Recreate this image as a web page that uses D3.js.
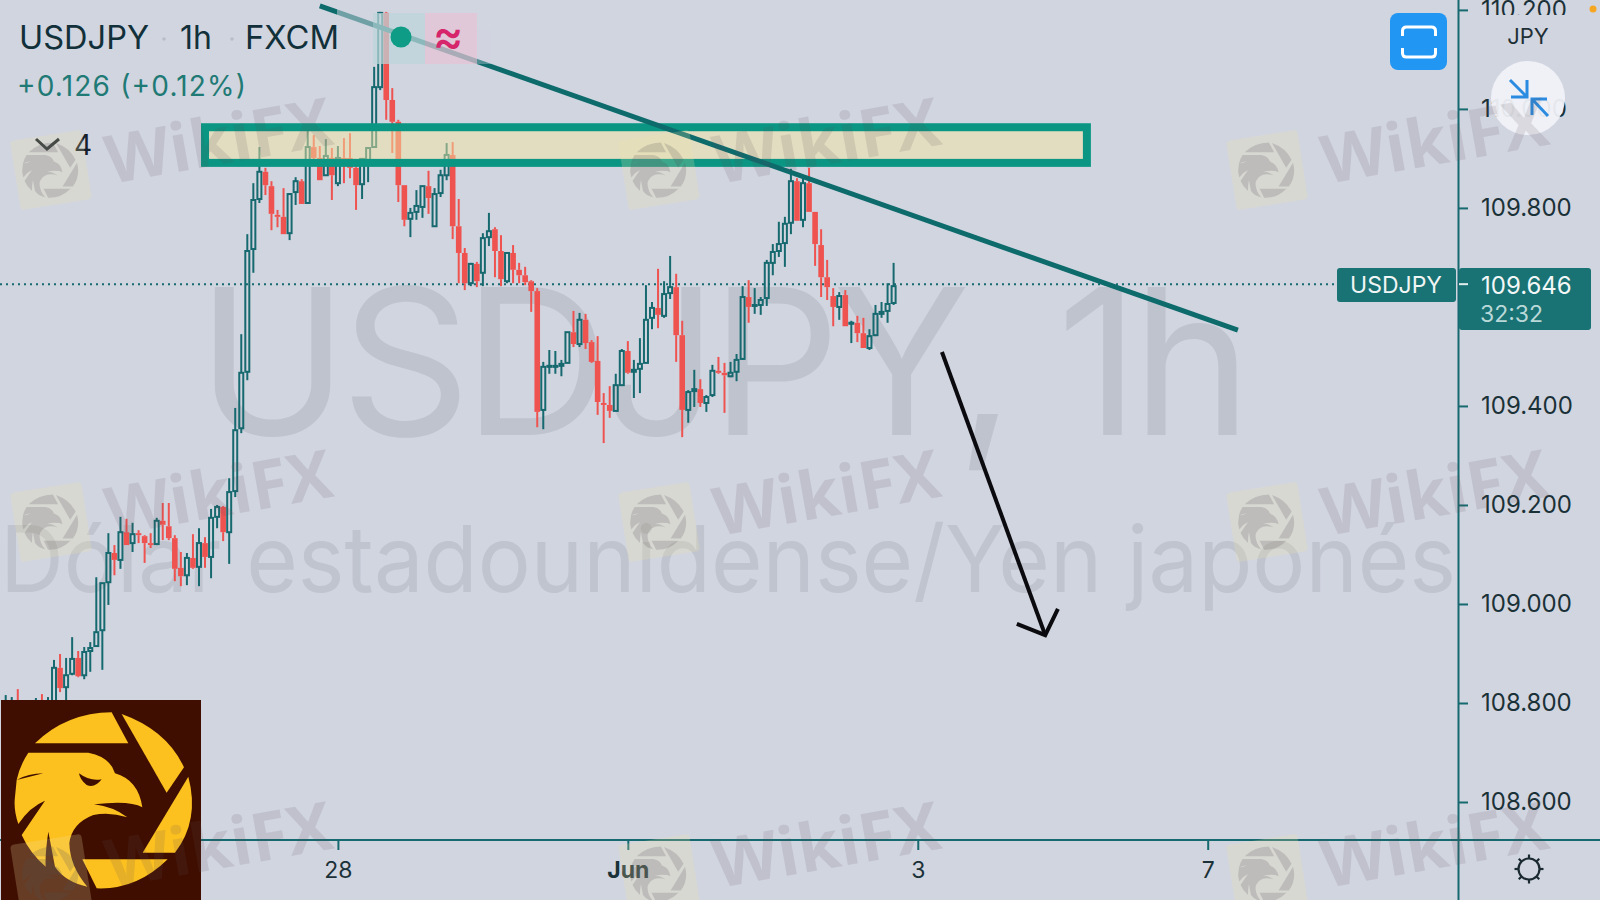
<!DOCTYPE html>
<html><head><meta charset="utf-8">
<script src="https://cdn.jsdelivr.net/npm/d3@7"></script>
<style>html,body{margin:0;padding:0;background:#d1d5e0;overflow:hidden}svg{display:block;font-family:Inter,Roboto,sans-serif}</style>
</head><body><svg id="c" width="1600" height="900"></svg>
<script>
const opens=[108.776,108.774,108.790,108.770,108.774,108.782,108.798,108.782,108.794,108.871,
108.832,108.859,108.891,108.856,108.905,108.915,108.947,109.044,109.103,109.089,
109.145,109.123,109.143,109.137,109.123,109.121,109.168,109.157,109.133,109.073,
109.058,109.093,109.075,109.123,109.095,109.176,109.196,109.145,109.228,109.355,
109.469,109.717,109.818,109.873,109.844,109.786,109.782,109.749,109.832,109.854,
109.810,109.923,109.901,109.866,109.901,109.850,109.901,109.901,109.881,109.848,
109.897,109.923,110.044,110.194,110.018,109.974,109.846,109.778,109.792,109.802,
109.844,109.763,109.830,109.866,109.907,109.763,109.709,109.648,109.687,109.669,
109.741,109.757,109.713,109.652,109.709,109.675,109.664,109.652,109.632,109.392,
109.479,109.479,109.481,109.487,109.549,109.525,109.574,109.529,109.491,109.406,
109.402,109.390,109.442,109.511,109.469,109.475,109.487,109.578,109.598,109.582,
109.628,109.640,109.543,109.392,109.430,109.434,109.406,109.422,109.471,109.467,
109.460,109.469,109.495,109.620,109.602,109.604,109.618,109.689,109.713,109.729,
109.770,109.854,109.776,109.850,109.792,109.725,109.660,109.622,109.600,109.624,
109.566,109.568,109.547,109.517,109.543,109.586,109.592,109.608];
const highs=[108.816,108.812,108.828,108.796,108.798,108.810,108.818,108.812,108.887,108.899,
108.891,108.933,108.905,108.913,108.923,109.054,109.042,109.143,109.119,109.176,
109.172,109.164,109.149,109.139,109.143,109.174,109.204,109.204,109.139,109.105,
109.103,109.141,109.153,109.135,109.192,109.200,109.198,109.254,109.396,109.545,
109.747,109.850,109.923,109.881,109.854,109.796,109.840,109.830,109.862,109.858,
109.957,109.947,109.925,109.939,109.921,109.925,109.941,109.951,109.897,109.901,
109.923,110.085,110.196,110.196,110.042,109.978,109.846,109.800,109.836,109.844,
109.875,109.840,109.877,109.931,109.933,109.818,109.719,109.689,109.691,109.749,
109.790,109.761,109.745,109.711,109.725,109.689,109.681,109.654,109.638,109.489,
109.513,109.511,109.493,109.549,109.592,109.588,109.586,109.533,109.541,109.426,
109.440,109.465,109.515,109.531,109.493,109.537,109.644,109.610,109.677,109.652,
109.703,109.667,109.572,109.432,109.473,109.454,109.422,109.483,109.499,109.487,
109.489,109.505,109.642,109.654,109.638,109.620,109.695,109.727,109.772,109.782,
109.879,109.860,109.860,109.881,109.792,109.757,109.695,109.638,109.630,109.634,
109.572,109.582,109.578,109.555,109.604,109.610,109.648,109.689];
const lows=[108.762,108.758,108.762,108.755,108.758,108.766,108.770,108.774,108.782,108.822,
108.802,108.856,108.852,108.848,108.863,108.915,108.867,108.998,109.058,109.071,
109.119,109.105,109.123,109.083,109.113,109.119,109.129,109.129,109.046,109.036,
109.038,109.071,109.036,109.073,109.052,109.153,109.127,109.081,109.216,109.345,
109.452,109.669,109.810,109.826,109.755,109.761,109.747,109.735,109.806,109.808,
109.810,109.897,109.856,109.866,109.816,109.844,109.850,109.860,109.796,109.818,
109.852,109.921,110.038,109.978,109.911,109.812,109.763,109.741,109.776,109.780,
109.788,109.763,109.822,109.856,109.737,109.648,109.634,109.642,109.640,109.642,
109.723,109.660,109.642,109.648,109.648,109.648,109.644,109.590,109.357,109.353,
109.465,109.465,109.460,109.487,109.519,109.519,109.515,109.487,109.382,109.325,
109.376,109.390,109.442,109.465,109.416,109.426,109.487,109.555,109.557,109.578,
109.616,109.489,109.337,109.366,109.398,109.398,109.388,109.418,109.465,109.386,
109.458,109.450,109.493,109.568,109.586,109.584,109.602,109.664,109.701,109.681,
109.747,109.774,109.761,109.792,109.683,109.620,109.614,109.561,109.574,109.561,
109.527,109.529,109.517,109.513,109.541,109.578,109.568,109.604];
const closes=[108.796,108.794,108.774,108.782,108.786,108.794,108.782,108.798,108.871,108.830,
108.856,108.889,108.854,108.903,108.911,108.943,109.042,109.103,109.089,109.145,
109.119,109.141,109.139,109.123,109.119,109.168,109.160,109.133,109.071,109.056,
109.093,109.073,109.123,109.095,109.174,109.196,109.145,109.226,109.351,109.467,
109.713,109.816,109.873,109.846,109.788,109.782,109.747,109.828,109.854,109.808,
109.923,109.901,109.856,109.905,109.866,109.901,109.887,109.881,109.846,109.899,
109.921,110.044,110.194,110.018,109.974,109.846,109.776,109.790,109.804,109.844,
109.820,109.828,109.866,109.907,109.763,109.709,109.648,109.687,109.652,109.739,
109.753,109.713,109.656,109.709,109.675,109.664,109.650,109.632,109.388,109.479,
109.481,109.481,109.485,109.549,109.525,109.574,109.527,109.489,109.408,109.402,
109.390,109.442,109.511,109.467,109.473,109.485,109.574,109.598,109.584,109.626,
109.640,109.543,109.392,109.428,109.434,109.406,109.418,109.471,109.467,109.462,
109.467,109.493,109.620,109.600,109.604,109.614,109.689,109.711,109.727,109.768,
109.854,109.774,109.850,109.792,109.727,109.660,109.640,109.600,109.622,109.561,
109.568,109.547,109.517,109.541,109.586,109.590,109.606,109.642];

const priceTicks=[108.6,108.8,109.0,109.2,109.4,109.6,109.8,110.0,110.2];
const timeBars=[55,103,151,199];
const timeLabels=["28","Jun","3","7"];
const lastPrice=109.646;
const trendBars=[52,204], trendPrices=[110.208,109.553];
const zoneBars=[33,179], zonePrices=[109.963,109.891];
const arrowBars=[155,172.1], arrowPrices=[109.509,108.937];
const arrowHeadBars=[167.4,172.1,174.2], arrowHeadPrices=[108.960,108.937,108.990];

const TEAL="#16696e", RED="#ef5350", DARK="#1b3138", BG="#d1d5e0";
const svg=d3.select("#c");
const x=d3.scaleLinear().domain([0,199]).range([5.7,1207.7]);
const y=d3.scaleLinear().domain([110.22,108.6]).range([0,802]);
const bars=opens.map((o,i)=>({i,o,h:highs[i],l:lows[i],c:closes[i],up:closes[i]>=o}));

svg.append("rect").attr("width",1600).attr("height",900).attr("fill",BG);

// large background captions
svg.append("text").attr("x",197).attr("y",435).attr("font-size",203).attr("font-weight",400)
  .attr("fill","#bfc3ce").attr("textLength",1055).attr("lengthAdjust","spacing").text("USDJPY, 1h");
svg.append("text").attr("x",0).attr("y",592).attr("font-size",92).attr("font-weight",400)
  .attr("fill","#c0c4cf").attr("textLength",1456).attr("lengthAdjust","spacingAndGlyphs").text("Dólar estadounidense/Yen japonés");

// last price line
svg.append("line").attr("x1",0).attr("x2",1337).attr("y1",y(lastPrice)).attr("y2",y(lastPrice))
  .attr("stroke",TEAL).attr("stroke-width",2).attr("stroke-dasharray","2 4");

// candles
const g=svg.append("g");
g.selectAll("line.wt").data(bars).join("line").attr("x1",d=>x(d.i)).attr("x2",d=>x(d.i))
  .attr("y1",d=>y(d.h)).attr("y2",d=>y(Math.max(d.o,d.c)))
  .attr("stroke",d=>d.up?TEAL:RED).attr("stroke-width",2);
g.selectAll("line.wb").data(bars).join("line").attr("x1",d=>x(d.i)).attr("x2",d=>x(d.i))
  .attr("y1",d=>y(Math.min(d.o,d.c))).attr("y2",d=>y(d.l))
  .attr("stroke",d=>d.up?TEAL:RED).attr("stroke-width",2);
g.selectAll("rect.b").data(bars).join("rect")
  .attr("x",d=>x(d.i)-(d.up?2:2.8)).attr("width",d=>d.up?4:5.6)
  .attr("y",d=>y(Math.max(d.o,d.c)))
  .attr("height",d=>Math.max(1,Math.abs(y(d.o)-y(d.c))))
  .attr("fill",d=>d.up?"none":RED).attr("stroke",d=>d.up?TEAL:"none").attr("stroke-width",2);

// resistance zone
svg.append("rect").attr("x",x(zoneBars[0])).attr("width",x(zoneBars[1])-x(zoneBars[0]))
  .attr("y",y(zonePrices[0])).attr("height",y(zonePrices[1])-y(zonePrices[0]))
  .attr("fill","#f3e6a0").attr("fill-opacity",.5).attr("stroke","#0a9683").attr("stroke-width",8);

// trend line
svg.append("line").attr("x1",x(trendBars[0])).attr("y1",y(trendPrices[0])).attr("x2",x(trendBars[1])).attr("y2",y(trendPrices[1]))
  .attr("stroke","#0d6b6c").attr("stroke-width",5);

// header overlay (fades what passes under the legend)
svg.append("rect").attr("x",337).attr("y",0).attr("width",36).attr("height",34).attr("fill",BG).attr("opacity",.5);
svg.append("rect").attr("x",373).attr("y",13).attr("width",52).attr("height",51).attr("fill","#bdd6d9").attr("opacity",.72);
svg.append("rect").attr("x",425).attr("y",13).attr("width",52).attr("height",51).attr("fill","#e6c4d4").attr("opacity",.72);
svg.append("rect").attr("x",477).attr("y",30).attr("width",14).attr("height",34).attr("fill",BG).attr("opacity",.35);
svg.append("circle").attr("cx",401).attr("cy",37).attr("r",10.5).attr("fill","#0e9c86");
svg.append("text").attr("x",448).attr("y",52).attr("text-anchor","middle").attr("font-size",46).attr("font-weight",500).attr("fill","#d6256b").text("≈");

// arrow
const ln=d3.line().x(d=>x(d[0])).y(d=>y(d[1]));
svg.append("path").attr("d",ln(arrowBars.map((b,i)=>[b,arrowPrices[i]]))).attr("fill","none").attr("stroke","#0b0b0f").attr("stroke-width",4);
svg.append("path").attr("d",ln(arrowHeadBars.map((b,i)=>[b,arrowHeadPrices[i]]))).attr("fill","none").attr("stroke","#0b0b0f").attr("stroke-width",4);

// title texts
const t=(x0,y0,s,size,fill,extra={})=>{const e=svg.append("text").attr("x",x0).attr("y",y0).attr("font-size",size).attr("fill",fill).text(s);
  Object.entries(extra).forEach(([k,v])=>e.attr(k,v));return e;};
t(19,49,"USDJPY",32,"#12303a",{textLength:130,lengthAdjust:"spacingAndGlyphs"});
t(180,49,"1h",32,"#12303a");
t(245,49,"FXCM",32,"#12303a",{textLength:94,lengthAdjust:"spacingAndGlyphs"});
svg.append("circle").attr("cx",164).attr("cy",39).attr("r",1.8).attr("fill","#b8bec9");
svg.append("circle").attr("cx",232).attr("cy",39).attr("r",1.8).attr("fill","#b8bec9");
t(17,96,"+0.126 (+0.12%)",28,"#1f7a75",{textLength:229});
svg.append("path").attr("d","M36,139 L47,149 L59,139").attr("fill","none").attr("stroke","#15202a").attr("stroke-width",3);
t(74,155,"4",28,"#15202a");

// axes
const yAxis=svg.append("g").attr("transform","translate(1459,0)")
  .call(d3.axisRight(y).tickValues(priceTicks).tickFormat(d=>d.toFixed(3)).tickSize(9).tickPadding(13));
yAxis.select(".domain").remove();
yAxis.selectAll("line").attr("stroke",TEAL).attr("stroke-width",2);
yAxis.selectAll("text").attr("font-size",24).attr("font-family","Inter,Roboto,sans-serif").attr("fill",DARK);
svg.append("rect").attr("x",1462).attr("y",15).attr("width",130).attr("height",33).attr("fill",BG);
svg.append("line").attr("x1",1458.5).attr("x2",1458.5).attr("y1",0).attr("y2",900).attr("stroke",TEAL).attr("stroke-width",2);

const xAxis=svg.append("g").attr("transform","translate(0,840)")
  .call(d3.axisBottom(x).tickValues(timeBars).tickFormat((d,i)=>timeLabels[i]).tickSize(10).tickPadding(12));
xAxis.select(".domain").remove();
xAxis.selectAll("line").attr("stroke",TEAL).attr("stroke-width",2);
xAxis.selectAll("text").attr("font-size",23).attr("font-family","Inter,Roboto,sans-serif").attr("fill",DARK)
  .attr("font-weight",d=>d===103?700:400);
svg.append("line").attr("x1",0).attr("x2",1600).attr("y1",840).attr("y2",840).attr("stroke",TEAL).attr("stroke-width",2);

// price labels
svg.append("rect").attr("x",1337).attr("y",268).attr("width",119).attr("height",34).attr("rx",3).attr("fill","#197273");
t(1396,293,"USDJPY",23,"#f0f5f5",{"text-anchor":"middle"});
svg.append("rect").attr("x",1459).attr("y",268).attr("width",132).attr("height",62).attr("rx",3).attr("fill","#197273");
svg.append("line").attr("x1",1459).attr("x2",1468).attr("y1",y(lastPrice)).attr("y2",y(lastPrice)).attr("stroke","#e5eeee").attr("stroke-width",2);
t(1481,294,lastPrice.toFixed(3),24,"#f2f7f7");
t(1480,322,"32:32",23,"#b9d8d8");

// scale selector + buttons
t(1528,44,"JPY",22,"#1f2f36",{"text-anchor":"middle"});
svg.append("circle").attr("cx",1593).attr("cy",9).attr("r",3.5).attr("fill","#f5a623");
svg.append("rect").attr("x",1390).attr("y",13).attr("width",57).attr("height",57).attr("rx",8).attr("fill","#2196f3");
svg.append("path").attr("d","M1402.5,36 V31 Q1402.5,27 1406.5,27 H1431.5 Q1435.5,27 1435.5,31 V36 M1402.5,48 V53 Q1402.5,57 1406.5,57 H1431.5 Q1435.5,57 1435.5,53 V48")
  .attr("fill","none").attr("stroke","#fff").attr("stroke-width",3);
svg.append("circle").attr("cx",1528).attr("cy",98).attr("r",37).attr("fill","#f1f2f8").attr("opacity",.94);
svg.append("path").attr("d","M1510,80 L1527,97 M1527,80 V97 H1511 M1548,116 L1532,99 M1532,115 V99 H1547")
  .attr("fill","none").attr("stroke","#2a8be0").attr("stroke-width",3);

// settings icon
const gear=svg.append("g").attr("transform","translate(1529,869)").attr("stroke","#1b2a30").attr("stroke-width",2.2).attr("fill","none");
gear.append("circle").attr("r",10.5);
d3.range(8).forEach(i=>{const a=i*Math.PI/4;gear.append("line").attr("x1",10.5*Math.cos(a)).attr("y1",10.5*Math.sin(a)).attr("x2",14.5*Math.cos(a)).attr("y2",14.5*Math.sin(a));});

// logo
const eagleSegs=["M105,160 Q200,68 335,67 L385,160 Z","M365,72 Q500,120 552,232 L500,308 Z","M565,260 Q600,390 525,488 L428,488 Z","M247,508 L503,508 Q410,600 290,595 Z",
"M85,188 L265,188 Q330,200 345,250 Q415,270 427,352 Q390,330 282,343 Q340,350 382,382 Q330,365 280,375 Q215,400 208,460 Q210,530 262,590 Q195,575 165,530 L145,425 Q135,490 137,530 Q90,490 65,435 L135,332 Q90,350 55,402 Q40,360 45,320 L50,270 L130,250 Q85,250 50,270 Q60,225 85,188 Z"];
const eyeSeg="M237,250 Q270,275 305,268 Q285,295 260,285 Q240,270 237,250 Z";
svg.append("rect").attr("x",1).attr("y",700).attr("width",200).attr("height",200).attr("fill","#3f0e00");
const lg=svg.append("g").attr("transform","translate(0,690) scale(0.3333)");
lg.selectAll("path.s").data(eagleSegs).join("path").attr("d",d=>d).attr("fill","#fdc11f");
lg.append("path").attr("d",eyeSeg).attr("fill","#3f0e00");

// WikiFX watermark grid
const wmCols=[0,608,1216], wmRows=[0,352,704];
wmRows.forEach(r=>wmCols.forEach(c=>{
  const w=svg.append("g").attr("transform",`translate(${c},${r})`);
  w.append("rect").attr("x",15).attr("y",135).attr("width",72).attr("height",70).attr("rx",4)
    .attr("transform","rotate(-9 51 170)").attr("fill","#f0e2a4").attr("opacity",.22);
  const e=w.append("g").attr("transform","translate(50,170) scale(0.105) translate(-308,-330)").attr("opacity",.2);
  e.selectAll("path").data(eagleSegs).join("path").attr("d",d=>d).attr("fill","#55505a");
  w.append("text").attr("transform","translate(110,184) rotate(-10)")
    .attr("font-size",67).attr("font-weight",700).attr("font-family","'Open Sans',sans-serif")
    .attr("fill","#5d4f58").attr("opacity",.14).text("WikiFX");
}));
</script></body></html>
